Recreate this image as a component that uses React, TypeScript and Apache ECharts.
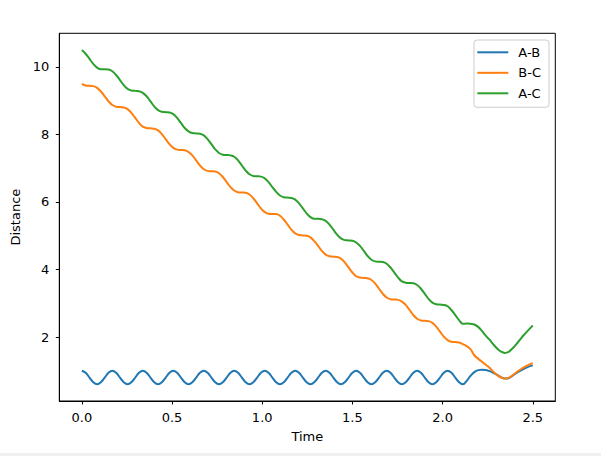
import React, { useEffect, useRef } from "react";
import * as echarts from "echarts";

const seriesNames = ["A-B", "B-C", "A-C"];
const colors = ["#1f77b4", "#ff7f0e", "#2ca02c"];
const xTicks = [0, 0.5, 1.0, 1.5, 2.0, 2.5];
const yTicks = [2, 4, 6, 8, 10];

const time = [
  0, 0.0211, 0.0423, 0.0634, 0.0845, 0.1056, 0.1268, 0.1479,
  0.169, 0.1901, 0.2113, 0.2324, 0.2535, 0.2746, 0.2958, 0.3169,
  0.338, 0.3591, 0.3803, 0.4014, 0.4225, 0.4436, 0.4648, 0.4859,
  0.507, 0.5281, 0.5493, 0.5704, 0.5915, 0.6126, 0.6338, 0.6549,
  0.676, 0.6971, 0.7183, 0.7394, 0.7605, 0.7816, 0.8028, 0.8239,
  0.845, 0.8661, 0.8873, 0.9084, 0.9295, 0.9506, 0.9718, 0.9929,
  1.014, 1.0351, 1.0563, 1.0774, 1.0985, 1.1196, 1.1408, 1.1619,
  1.183, 1.2041, 1.2253, 1.2464, 1.2675, 1.2886, 1.3098, 1.3309,
  1.352, 1.3731, 1.3943, 1.4154, 1.4365, 1.4576, 1.4788, 1.4999,
  1.521, 1.5421, 1.5633, 1.5844, 1.6055, 1.6266, 1.6478, 1.6689,
  1.69, 1.7111, 1.7323, 1.7534, 1.7745, 1.7956, 1.8168, 1.8379,
  1.859, 1.8801, 1.9013, 1.9224, 1.9435, 1.9646, 1.9858, 2.0069,
  2.028, 2.0491, 2.0703, 2.0914, 2.1125, 2.1336, 2.1548, 2.1759,
  2.197, 2.2181, 2.2393, 2.2604, 2.2815, 2.3026, 2.3238, 2.3449,
  2.366, 2.3871, 2.4083, 2.4294, 2.4505, 2.4716, 2.4928, 2.5,
];

const distAB = [
  1.0, 0.94, 0.8, 0.66, 0.6, 0.66, 0.8, 0.94,
  1.0, 0.94, 0.8, 0.66, 0.6, 0.66, 0.8, 0.94,
  1.0, 0.94, 0.8, 0.66, 0.6, 0.66, 0.8, 0.94,
  1.0, 0.94, 0.8, 0.66, 0.6, 0.66, 0.8, 0.94,
  1.0, 0.94, 0.8, 0.66, 0.6, 0.66, 0.8, 0.94,
  1.0, 0.94, 0.8, 0.66, 0.6, 0.66, 0.8, 0.94,
  1.0, 0.94, 0.8, 0.66, 0.6, 0.66, 0.8, 0.94,
  1.0, 0.94, 0.8, 0.66, 0.6, 0.66, 0.8, 0.94,
  1.0, 0.94, 0.8, 0.66, 0.6, 0.66, 0.8, 0.94,
  1.0, 0.94, 0.8, 0.66, 0.6, 0.66, 0.8, 0.94,
  1.0, 0.94, 0.8, 0.66, 0.6, 0.66, 0.8, 0.94,
  1.0, 0.94, 0.8, 0.66, 0.6, 0.66, 0.8, 0.94,
  1.0, 0.94, 0.8, 0.66, 0.6, 0.7, 0.85, 0.96,
  1.02, 1.03, 1.02, 0.99, 0.94, 0.88, 0.81, 0.77,
  0.78, 0.85, 0.93, 1.0, 1.06, 1.11, 1.15, 1.16,
];

const distBC = [
  9.5, 9.45, 9.44, 9.43, 9.38, 9.27, 9.13, 8.98,
  8.87, 8.82, 8.81, 8.8, 8.75, 8.64, 8.49, 8.34,
  8.23, 8.19, 8.18, 8.17, 8.12, 8.01, 7.86, 7.71,
  7.6, 7.55, 7.54, 7.53, 7.48, 7.38, 7.23, 7.08,
  6.97, 6.92, 6.91, 6.9, 6.85, 6.74, 6.59, 6.44,
  6.34, 6.29, 6.28, 6.27, 6.22, 6.11, 5.96, 5.81,
  5.7, 5.65, 5.64, 5.64, 5.59, 5.48, 5.33, 5.18,
  5.07, 5.02, 5.01, 5.0, 4.95, 4.84, 4.7, 4.55,
  4.44, 4.39, 4.38, 4.37, 4.32, 4.21, 4.06, 3.91,
  3.8, 3.76, 3.75, 3.74, 3.69, 3.58, 3.43, 3.28,
  3.17, 3.12, 3.11, 3.1, 3.05, 2.95, 2.8, 2.65,
  2.54, 2.49, 2.48, 2.47, 2.42, 2.31, 2.16, 2.01,
  1.91, 1.86, 1.85, 1.84, 1.79, 1.73, 1.64, 1.46,
  1.36, 1.27, 1.18, 1.09, 0.97, 0.87, 0.8, 0.77,
  0.79, 0.86, 0.95, 1.03, 1.1, 1.16, 1.21, 1.22,
];

const distAC = [
  10.5, 10.39, 10.24, 10.09, 9.98, 9.93, 9.93, 9.92,
  9.87, 9.76, 9.61, 9.46, 9.35, 9.3, 9.29, 9.28,
  9.23, 9.13, 8.98, 8.83, 8.72, 8.67, 8.66, 8.65,
  8.6, 8.49, 8.34, 8.19, 8.09, 8.04, 8.03, 8.02,
  7.97, 7.86, 7.71, 7.56, 7.45, 7.4, 7.39, 7.38,
  7.34, 7.23, 7.08, 6.93, 6.82, 6.77, 6.76, 6.75,
  6.7, 6.59, 6.44, 6.3, 6.19, 6.14, 6.13, 6.12,
  6.07, 5.96, 5.81, 5.66, 5.55, 5.5, 5.5, 5.49,
  5.44, 5.33, 5.18, 5.03, 4.92, 4.87, 4.86, 4.85,
  4.8, 4.7, 4.55, 4.4, 4.29, 4.24, 4.23, 4.22,
  4.17, 4.06, 3.91, 3.76, 3.65, 3.61, 3.6, 3.59,
  3.54, 3.43, 3.28, 3.13, 3.02, 2.97, 2.96, 2.95,
  2.91, 2.8, 2.65, 2.5, 2.39, 2.4, 2.39, 2.37,
  2.3, 2.18, 2.04, 1.92, 1.78, 1.66, 1.57, 1.53,
  1.56, 1.66, 1.78, 1.92, 2.06, 2.18, 2.3, 2.34,
];

const FONT = "DejaVu Sans";

export default function App() {
  const ref = useRef<HTMLDivElement>(null);

  useEffect(() => {
    document.body.style.margin = "0";
    if (!ref.current) return;
    const chart = echarts.init(ref.current, null, { renderer: "svg" });
    const allValues = [distAB, distBC, distAC];
    const axisLine = { show: true, onZero: false, lineStyle: { color: "#000000", width: 1 } };
    const option: any = {
      animation: false,
      backgroundColor: "#ffffff",
      textStyle: { fontFamily: FONT },
      grid: {
        left: 59.3,
        right: 45.7,
        top: 33.3,
        bottom: 55,
        show: true,
        borderColor: "#000000",
        borderWidth: 1,
        backgroundColor: "transparent",
        containLabel: false,
      },
      legend: {
        orient: "vertical",
        left: 474,
        top: 40,
        data: seriesNames,
        icon: "rect",
        itemWidth: 31,
        itemHeight: 2,
        itemGap: 4.5,
        padding: [4.3, 8, 6, 3.3],
        backgroundColor: "rgba(255,255,255,0.8)",
        borderColor: "#cccccc",
        borderWidth: 1,
        borderRadius: 3,
        textStyle: {
          fontFamily: FONT,
          fontSize: 13,
          color: "#000000",
          lineHeight: 16,
          padding: [0, 0, 0, 5],
        },
      },
      xAxis: {
        type: "value",
        min: -0.125,
        max: 2.625,
        name: "Time",
        nameLocation: "middle",
        nameGap: 29,
        nameTextStyle: { fontFamily: FONT, fontSize: 13, color: "#000000" },
        axisLine,
        splitLine: { show: false },
        axisTick: {
          show: true,
          inside: false,
          length: 3.5,
          customValues: xTicks,
          lineStyle: { color: "#000000", width: 1 },
        },
        axisLabel: {
          customValues: xTicks,
          margin: 10,
          fontFamily: FONT,
          fontSize: 13,
          color: "#000000",
          formatter: (v: number) => v.toFixed(1),
        },
      },
      yAxis: {
        type: "value",
        min: 0.105,
        max: 10.995,
        name: "Distance",
        nameLocation: "middle",
        nameGap: 30,
        nameTextStyle: { fontFamily: FONT, fontSize: 13, color: "#000000" },
        axisLine,
        splitLine: { show: false },
        axisTick: {
          show: true,
          inside: false,
          length: 3.5,
          customValues: yTicks,
          lineStyle: { color: "#000000", width: 1 },
        },
        axisLabel: {
          customValues: yTicks,
          margin: 10,
          fontFamily: FONT,
          fontSize: 13,
          color: "#000000",
          formatter: (v: number) => String(Math.round(v)),
        },
      },
      graphic: [
        {
          type: "rect",
          left: 0,
          top: 453,
          shape: { width: 601, height: 3 },
          style: { fill: "#f0f0f0" },
          silent: true,
        },
      ],
      series: seriesNames.map((name, k) => ({
        name,
        type: "line",
        symbol: "none",
        smooth: 0.4,
        color: colors[k],
        lineStyle: { color: colors[k], width: 2 },
        data: time.map((t, i) => [t, allValues[k][i]]),
      })),
    };
    chart.setOption(option);
    return () => chart.dispose();
  }, []);

  return <div ref={ref} style={{ width: 601, height: 456 }} />;
}
